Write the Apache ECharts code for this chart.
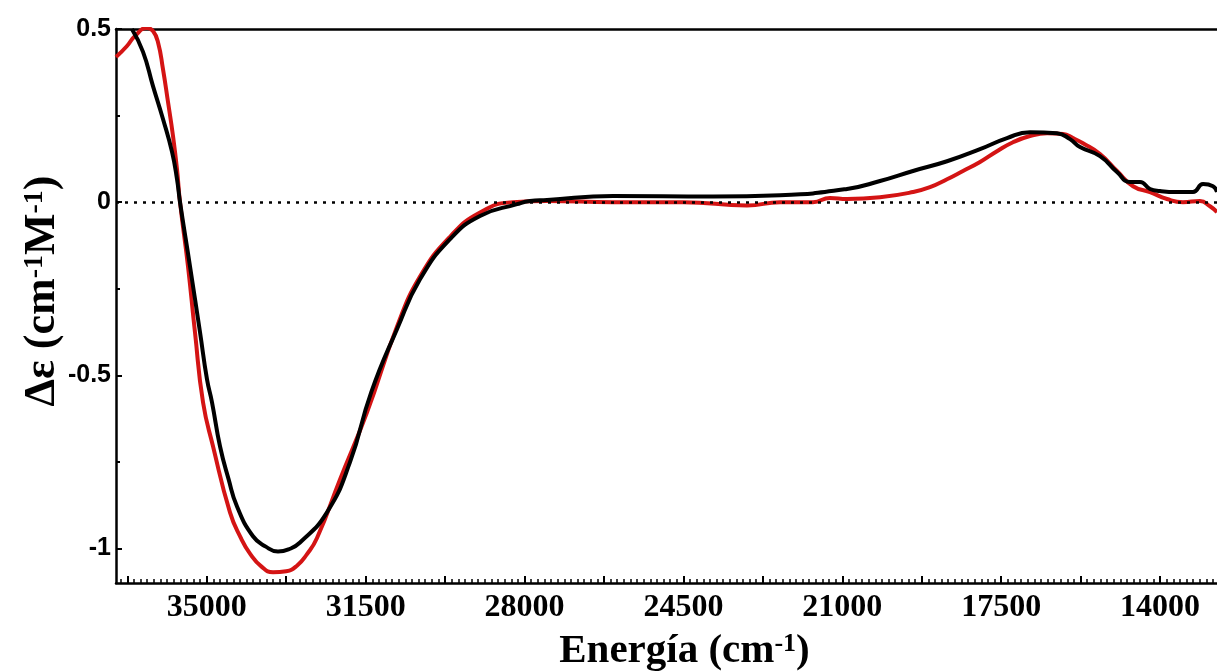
<!DOCTYPE html>
<html>
<head>
<meta charset="utf-8">
<script src="https://cdn.jsdelivr.net/npm/echarts@6/dist/echarts.min.js"></script>
<style>html,body{margin:0;padding:0;background:#fff;}#chart{width:1217px;height:672px;}</style>
</head>
<body>
<div id="chart"></div>
<script>
// Energy (cm^-1) and Δε values
const blackEnergy = [36650, 36405, 36185, 35965, 35766, 35656, 35590, 35370, 35149, 34995, 34885, 34709, 34520, 34334, 33982, 33700, 33431, 33200, 32946, 32352, 31845, 31380, 30810, 30303, 29642, 28981, 28166, 27880, 27505, 26051, 23848, 22372, 20896, 20169, 19442, 18693, 17966, 17371, 16865, 16270, 15983, 15763, 15322, 14948, 14662, 14441, 14221, 14001, 13626, 13274, 13053, 12833, 12745];
const blackDelta  = [0.50, 0.434, 0.335, 0.240, 0.145, 0.066, 0.0, -0.185, -0.376, -0.512, -0.578, -0.705, -0.800, -0.879, -0.965, -0.995, -1.009, -1.003, -0.983, -0.896, -0.751, -0.55, -0.367, -0.223, -0.107, -0.040, -0.006, 0.003, 0.006, 0.018, 0.016, 0.020, 0.038, 0.061, 0.090, 0.118, 0.153, 0.185, 0.202, 0.199, 0.182, 0.159, 0.133, 0.087, 0.058, 0.058, 0.038, 0.032, 0.029, 0.029, 0.052, 0.046, 0.029];
const redEnergy = [37000, 36758, 36581, 36317, 36185, 36075, 35965, 35854, 35744, 35656, 35590, 35414, 35260, 35083, 34863, 34489, 34250, 34048, 33800, 33541, 33250, 33013, 32800, 32572, 32065, 31470, 30810, 30303, 29642, 28981, 28254, 27505, 26051, 24500, 23099, 22372, 21645, 21271, 20896, 20169, 19442, 19068, 18693, 18341, 17966, 17592, 17239, 16865, 16490, 16138, 15917, 15697, 15322, 14948, 14595, 14221, 13846, 13494, 13120, 12899, 12745];
const redDelta  = [0.419, 0.451, 0.480, 0.503, 0.494, 0.462, 0.384, 0.289, 0.191, 0.095, 0.0, -0.185, -0.376, -0.578, -0.705, -0.896, -0.970, -1.015, -1.052, -1.069, -1.066, -1.050, -1.018, -0.970, -0.801, -0.607, -0.36, -0.215, -0.10, -0.03, 0.0, 0.003, 0.0, 0.0, -0.010, 0.0, 0.0, 0.012, 0.009, 0.014, 0.029, 0.043, 0.066, 0.090, 0.116, 0.147, 0.173, 0.191, 0.199, 0.197, 0.185, 0.170, 0.139, 0.090, 0.046, 0.029, 0.009, 0.0, 0.003, -0.012, -0.029];
const xLabelValues = [35000, 31500, 28000, 24500, 21000, 17500, 14000];
const yMajorTicks = [-1, -0.5, 0, 0.5];
const yMinorTicks = [-0.75, -0.25, 0.25];

const X_MIN = 12745, X_MAX = 37000;
const xMajorTicks = [], xMinorTicks = [];
for (let v = 14000 - 1750; v <= X_MAX; v += 1750) {
  if (v >= X_MIN) xMajorTicks.push(v);
  for (let k = 1; k < 12; k++) {
    const m = v + k * 1750 / 12;
    if (m >= X_MIN && m <= X_MAX) xMinorTicks.push(m);
  }
}

const zip = (xs, ys) => xs.map((x, i) => [x, ys[i]]);

const chart = echarts.init(document.getElementById('chart'), null, {renderer: 'canvas'});
const serif = '"Liberation Serif", "DejaVu Serif", serif';
const sans = '"Liberation Sans", Arial, sans-serif';
const axisBase = {type: 'value', inverse: true, min: X_MIN, max: X_MAX, splitLine: {show: false}};

chart.setOption({
  animation: false,
  backgroundColor: '#fff',
  grid: {left: 116, right: 0, top: 29, bottom: 89, show: false, containLabel: false, outerBoundsMode: 'none'},
  xAxis: [Object.assign({}, axisBase, {
    position: 'bottom',
    axisLine: {onZero: false, lineStyle: {color: '#000', width: 2.5}},
    axisTick: {inside: true, length: 7, customValues: xMajorTicks, lineStyle: {color: '#000', width: 2}},
    axisLabel: {customValues: xLabelValues, formatter: v => String(v), color: '#000', fontFamily: serif, fontWeight: 'bold', fontSize: 32, margin: 9},
    name: 'Energía (cm{sup|-1})', nameLocation: 'middle', nameGap: 48,
    nameTextStyle: {color: '#000', fontFamily: serif, fontWeight: 'bold', fontSize: 41, padding: [0, 0, 0, 36],
      rich: {sup: {fontFamily: serif, fontWeight: 'bold', fontSize: 26, verticalAlign: 'top', color: '#000'}}}
  }), Object.assign({}, axisBase, {
    position: 'bottom',
    axisLine: {show: false, onZero: false},
    axisTick: {show: true, inside: true, length: 4, customValues: xMinorTicks, lineStyle: {color: '#000', width: 1.5}},
    axisLabel: {show: false}
  }), Object.assign({}, axisBase, {
    position: 'top',
    axisLine: {show: true, onZero: false, lineStyle: {color: '#000', width: 2.5}},
    axisTick: {show: false},
    axisLabel: {show: false}
  })],
  yAxis: [{
    type: 'value', min: -1.1, max: 0.5,
    axisLine: {show: true, onZero: false, lineStyle: {color: '#000', width: 2.5}},
    axisTick: {inside: true, length: 6, customValues: yMajorTicks, lineStyle: {color: '#000', width: 2}},
    splitLine: {show: false},
    axisLabel: {customValues: yMajorTicks, formatter: v => String(v), color: '#000', fontFamily: sans, fontWeight: 'bold', fontSize: 25, margin: 5},
    name: 'Δε (cm{sup|-1}M{sup|-1})', nameLocation: 'middle', nameGap: 51, nameRotate: 90, nameMoveOverlap: false,
    nameTextStyle: {color: '#000', fontFamily: serif, fontWeight: 'bold', fontSize: 44, padding: [0, 0, 0, 30],
      rich: {sup: {fontFamily: serif, fontWeight: 'bold', fontSize: 28, verticalAlign: 'top', color: '#000'}}}
  }, {
    type: 'value', min: -1.1, max: 0.5, position: 'left',
    axisLine: {show: false},
    axisTick: {show: true, inside: true, length: 4, customValues: yMinorTicks, lineStyle: {color: '#000', width: 2}},
    axisLabel: {show: false},
    splitLine: {show: false}
  }],
  series: [{
    type: 'line', name: 'red', data: zip(redEnergy, redDelta), symbol: 'none', smooth: 0.5,
    lineStyle: {color: '#d41414', width: 4}, z: 2,
    markLine: {silent: true, symbol: 'none', label: {show: false},
      lineStyle: {color: '#000', width: 2.5, type: [3, 6]}, data: [{yAxis: 0}]}
  }, {
    type: 'line', name: 'black', data: zip(blackEnergy, blackDelta), symbol: 'none', smooth: 0.5,
    lineStyle: {color: '#000', width: 4}, z: 3
  }]
});
</script>
</body>
</html>
